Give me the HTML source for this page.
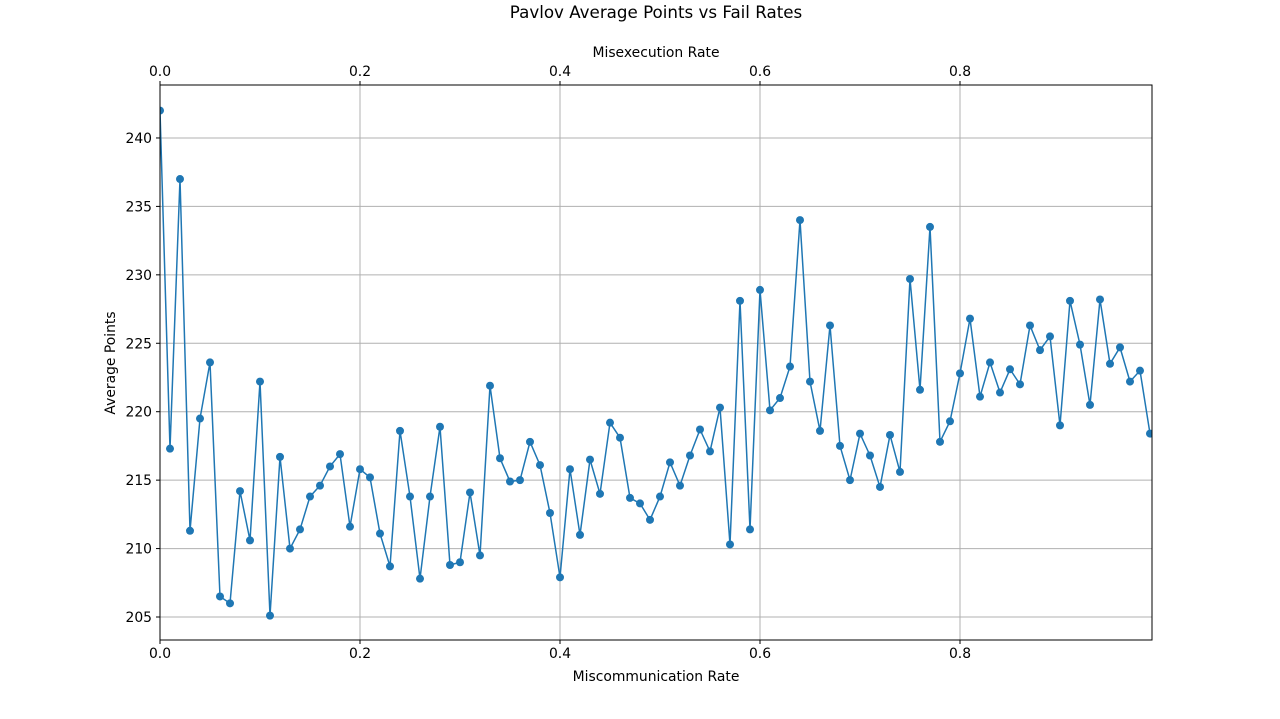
<!DOCTYPE html>
<html><head><meta charset="utf-8"><style>
html,body{margin:0;padding:0;background:#fff;}
svg{display:block;font-family:"DejaVu Sans","Liberation Sans",sans-serif;}
</style></head><body>
<svg id="chart" width="1280" height="719"></svg>
<script>
const xValues = [];
for (let i = 0; i < 100; i++) xValues.push(i / 100);
const avgPoints = [242.0,217.3,237.0,211.3,219.5,223.6,206.5,206.0,214.2,210.6,
222.2,205.1,216.7,210.0,211.4,213.8,214.6,216.0,216.9,211.6,
215.8,215.2,211.1,208.7,218.6,213.8,207.8,213.8,218.9,208.8,
209.0,214.1,209.5,221.9,216.6,214.9,215.0,217.8,216.1,212.6,
207.9,215.8,211.0,216.5,214.0,219.2,218.1,213.7,213.3,212.1,
213.8,216.3,214.6,216.8,218.7,217.1,220.3,210.3,228.1,211.4,
228.9,220.1,221.0,223.3,234.0,222.2,218.6,226.3,217.5,215.0,
218.4,216.8,214.5,218.3,215.6,229.7,221.6,233.5,217.8,219.3,
222.8,226.8,221.1,223.6,221.4,223.1,222.0,226.3,224.5,225.5,
219.0,228.1,224.9,220.5,228.2,223.5,224.7,222.2,223.0,218.4];
const xTicks = [0, 0.2, 0.4, 0.6, 0.8];
const xTickLabels = ["0.0","0.2","0.4","0.6","0.8"];
const yTicks = [205,210,215,220,225,230,235,240];

const L=160,R=1152,T=85,B=640;
const xMin=0,xMax=0.992,yMin=203.32,yMax=243.87;
const sx=v=>L+(v-xMin)/(xMax-xMin)*(R-L);
const sy=v=>B-(v-yMin)/(yMax-yMin)*(B-T);
const svg=document.getElementById('chart');
const NS='http://www.w3.org/2000/svg';
function mk(tag,attrs,parent){const e=document.createElementNS(NS,tag);for(const k in attrs)e.setAttribute(k,attrs[k]);(parent||svg).appendChild(e);return e;}
function txt(s,attrs){const e=mk('text',attrs);e.textContent=s;return e;}

xTicks.forEach(v=>{const g=mk('line',{x1:sx(v),x2:sx(v),y1:T,y2:B,stroke:'#b0b0b0','stroke-width':1});

});
yTicks.forEach(v=>{const g=mk('line',{x1:L,x2:R,y1:sy(v),y2:sy(v),stroke:'#b0b0b0','stroke-width':1});

});

let d='';
xValues.forEach((x,i)=>{d+=(i?'L':'M')+sx(x).toFixed(2)+','+sy(avgPoints[i]).toFixed(2);});
const clip=mk('clipPath',{id:'pc'});mk('rect',{x:L,y:T,width:R-L,height:B-T},clip);
const p=mk('path',{d:d,fill:'none',stroke:'#1f77b4','stroke-width':1.5,'clip-path':'url(#pc)'});


xValues.forEach((x,i)=>{const c=mk('circle',{cx:sx(x),cy:sy(avgPoints[i]),r:4,fill:'#1f77b4','clip-path':'url(#pc)'});

});

const fr=mk('rect',{x:L,y:T,width:R-L,height:B-T,fill:'none',stroke:'#000','stroke-width':1});



xTicks.forEach((v,i)=>{
 mk('line',{x1:sx(v),x2:sx(v),y1:B,y2:B+4,stroke:'#000'});
 mk('line',{x1:sx(v),x2:sx(v),y1:T,y2:T-4,stroke:'#000'});
 const a=txt(xTickLabels[i],{x:sx(v),y:B+18,'text-anchor':'middle','font-size':13.9});
 
 
 const b=txt(xTickLabels[i],{x:sx(v),y:T-9,'text-anchor':'middle','font-size':13.9});
 
 
});
yTicks.forEach(v=>{
 mk('line',{x1:L-4,x2:L,y1:sy(v),y2:sy(v),stroke:'#000'});
 const a=txt(String(v),{x:L-8,y:sy(v)+5,'text-anchor':'end','font-size':13.9});
 
 
});

const t=txt('Pavlov Average Points vs Fail Rates',{x:656,y:18,'text-anchor':'middle','font-size':16.7});


const tx=txt('Misexecution Rate',{x:656,y:57,'text-anchor':'middle','font-size':13.9});


const bx=txt('Miscommunication Rate',{x:656,y:681,'text-anchor':'middle','font-size':13.9});


const yt=txt('Average Points',{x:115,y:363,'text-anchor':'middle','font-size':13.9,transform:'rotate(-90 115 363)'});


</script>
</body></html>
